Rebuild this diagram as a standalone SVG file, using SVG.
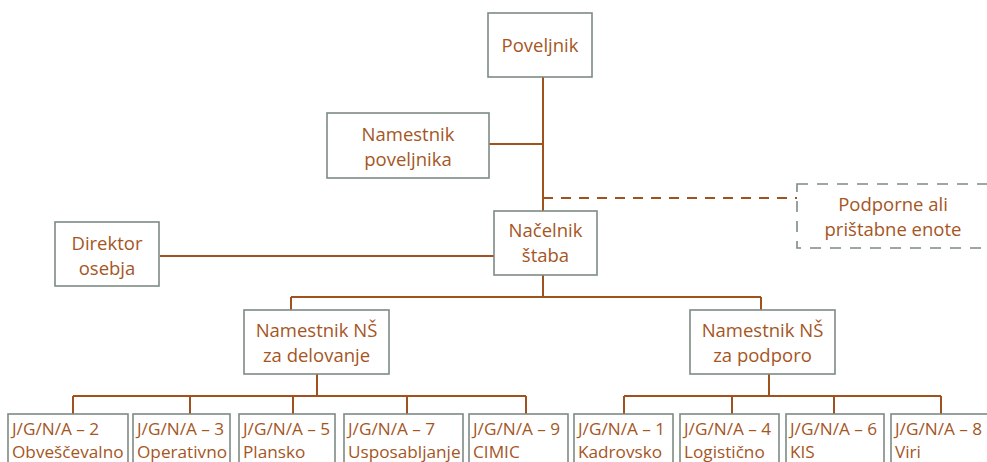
<svg xmlns="http://www.w3.org/2000/svg" width="987" height="462" viewBox="0 0 987 462">
<style>
.b{fill:#fff;stroke:#7d8b84;stroke-width:1.6}
.d{fill:#fff;stroke:#7d8b84;stroke-width:1.6;stroke-dasharray:11 9}
.c{fill:none;stroke:#a0521e;stroke-width:2}
.cd{fill:none;stroke:#a0521e;stroke-width:2;stroke-dasharray:10 8}
text{font-family:"Open Sans","Noto Sans","Liberation Sans",sans-serif;font-size:18.5px;fill:#a5561f}
.m{text-anchor:middle}
.s{font-size:17.2px}
</style>
<rect width="987" height="462" fill="#fff"/>
<g id="connectors">
<path class="c" d="M543 77V211M489 144H543M160 256H494M543 275V297M291 297H761M291 297V310M761 297V310"/>
<path class="cd" d="M543 198H797"/>
<path class="c" d="M317 374V396M73 396H526M73 396V414M190 396V414M293 396V414M407 396V414M526 396V414"/>
<path class="c" d="M769 374V396M624 396H941M624 396V414M732 396V414M834 396V414M941 396V414"/>
</g>
<g id="poveljnik"><rect class="b" x="488" y="13" width="104" height="64"/><text class="m" x="540" y="52">Poveljnik</text></g>
<g id="namestnik-poveljnika"><rect class="b" x="327" y="113" width="162" height="65"/><text class="m" x="408" y="141">Namestnik</text><text class="m" x="408" y="166">poveljnika</text></g>
<g id="podporne"><rect class="d" x="797" y="184" width="200" height="64"/><text class="m" x="893" y="211">Podporne ali</text><text class="m" x="893" y="236">prištabne enote</text></g>
<g id="nacelnik"><rect class="b" x="494" y="211" width="103" height="64"/><text class="m" x="545.5" y="237">Načelnik</text><text class="m" x="545.5" y="262">štaba</text></g>
<g id="direktor"><rect class="b" x="55" y="222" width="104" height="64"/><text class="m" x="107" y="250">Direktor</text><text class="m" x="107" y="275">osebja</text></g>
<g id="ns-delovanje"><rect class="b" x="244" y="310" width="145" height="64"/><text class="m" x="316.5" y="337">Namestnik NŠ</text><text class="m" x="316.5" y="362">za delovanje</text></g>
<g id="ns-podporo"><rect class="b" x="690" y="310" width="145" height="64"/><text class="m" x="762.5" y="337">Namestnik NŠ</text><text class="m" x="762.5" y="362">za podporo</text></g>
<g id="j2"><rect class="b" x="8" y="414" width="120" height="60"/><text class="s" x="12" y="435">J/G/N/A – 2</text><text class="s" x="12" y="458">Obveščevalno</text></g>
<g id="j3"><rect class="b" x="133" y="414" width="97" height="60"/><text class="s" x="137" y="435">J/G/N/A – 3</text><text class="s" x="137" y="458">Operativno</text></g>
<g id="j5"><rect class="b" x="239" y="414" width="96" height="60"/><text class="s" x="243" y="435">J/G/N/A – 5</text><text class="s" x="243" y="458">Plansko</text></g>
<g id="j7"><rect class="b" x="344" y="414" width="119" height="60"/><text class="s" x="348" y="435">J/G/N/A – 7</text><text class="s" x="348" y="458">Usposabljanje</text></g>
<g id="j9"><rect class="b" x="469" y="414" width="99" height="60"/><text class="s" x="473" y="435">J/G/N/A – 9</text><text class="s" x="473" y="458">CIMIC</text></g>
<g id="j1"><rect class="b" x="574" y="414" width="99" height="60"/><text class="s" x="578" y="435">J/G/N/A – 1</text><text class="s" x="578" y="458">Kadrovsko</text></g>
<g id="j4"><rect class="b" x="680" y="414" width="99" height="60"/><text class="s" x="684" y="435">J/G/N/A – 4</text><text class="s" x="684" y="458">Logistično</text></g>
<g id="j6"><rect class="b" x="786" y="414" width="98" height="60"/><text class="s" x="790" y="435">J/G/N/A – 6</text><text class="s" x="790" y="458">KIS</text></g>
<g id="j8"><rect class="b" x="891" y="414" width="110" height="60"/><text class="s" x="895" y="435">J/G/N/A – 8</text><text class="s" x="895" y="458">Viri</text></g>
</svg>
